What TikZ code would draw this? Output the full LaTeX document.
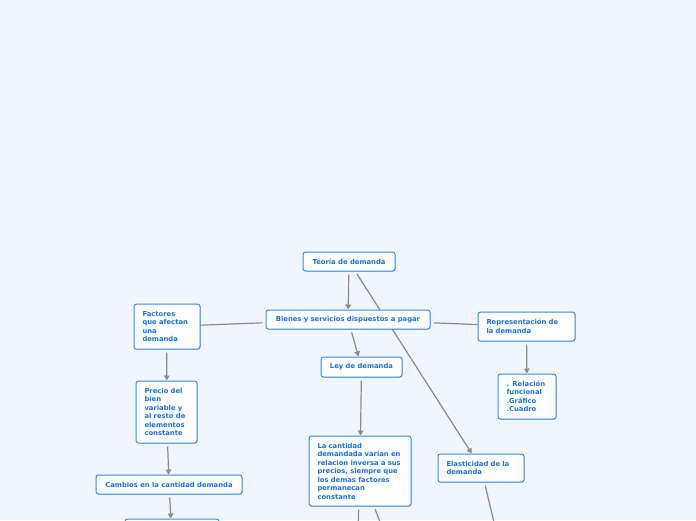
\documentclass[tikz,border=0pt]{standalone}
\usepackage{fontspec}
\setmainfont{DejaVu Sans}
\usepackage{xcolor}
\usetikzlibrary{arrows.meta, shadows}

\definecolor{bgblue}{RGB}{241,245,253}
\definecolor{boxblue}{RGB}{52,140,232}
\definecolor{txtblue}{RGB}{28,114,214}
\definecolor{linegray}{RGB}{138,138,144}

\pgfdeclarelayer{bg}
\pgfdeclarelayer{edges}
\pgfsetlayers{bg,edges,main}

\begin{document}
\begin{tikzpicture}[x=1pt, y=1pt,
  box/.style={draw=boxblue, fill=white, rounded corners=2.5pt, line width=1pt,
    text=txtblue, font=\bfseries\fontsize{6.8}{8.5}\selectfont, align=left,
    inner xsep=8.5pt, inner ysep=2pt,
    drop shadow={shadow xshift=0.6pt, shadow yshift=-0.8pt, opacity=0.18, fill=black}},
  link/.style={draw=linegray, line width=1.2pt, shorten <=3pt},
  arr/.style={link, -{Triangle[width=5.5pt,length=5pt]}}]

\useasboundingbox (0,0) rectangle (696,-520);
\begin{pgfonlayer}{bg}
\fill[bgblue] (0,0) rectangle (696,-520);
\end{pgfonlayer}

% Nodes
\node[box, minimum width=92pt, minimum height=19pt] (teoria) at (349,-261.5) {Teoría de demanda};
\node[box, minimum width=164pt, minimum height=19pt] (bienes) at (348,-319.5) {Bienes y servicios dispuestos a pagar};
\node[box, text width=49pt, minimum height=45pt] (factores) at (167,-326.5) {Factores\\que afectan\\una\\demanda};
\node[box, text width=44pt, minimum height=62pt] (precio) at (166.5,-412) {Precio del\\bien\\variable y\\al resto de\\elementos\\constante};
\node[box, minimum width=146pt, minimum height=19pt] (cambios) at (169,-484.5) {Cambios en la cantidad demanda};
\node[box, minimum width=94pt, minimum height=40pt] (siguiente) at (172,-539) {};
\node[box, minimum width=81pt, minimum height=20pt] (ley) at (361.5,-367) {Ley de demanda};
\node[box, text width=85pt, minimum height=70pt] (cantidad) at (360,-471) {La cantidad\\demandada varian en\\relacion inversa a sus\\precios, siempre que\\los demas factores\\permanecan\\constante};
\node[box, text width=80pt, minimum height=29pt] (repres) at (526.5,-326.5) {Representación de\\la demanda};
\node[box, text width=41pt, minimum height=45pt] (relacion) at (527,-396.5) {. Relación\\funcional\\.Gráfico\\.Cuadro};
\node[box, text width=69pt, minimum height=28pt] (elastic) at (481,-468) {Elasticidad de la\\demanda};

\coordinate (sal1) at (357,-560);
\coordinate (sal2) at (395,-560);
\coordinate (sal3) at (503,-560);

% Edges
\begin{pgfonlayer}{edges}
\draw[arr] (teoria) -- (bienes);
\draw[arr] (teoria) -- (elastic);
\draw[link] (bienes) -- (factores);
\draw[link] (bienes) -- (repres);
\draw[arr] (bienes) -- (ley);
\draw[arr] (ley) -- (cantidad);
\draw[arr] (factores) -- (precio);
\draw[arr] (precio) -- (cambios);
\draw[arr] (cambios) -- (siguiente);
\draw[arr] (repres) -- (relacion);
\draw[link] (cantidad) -- (sal1);
\draw[link] (cantidad) -- (sal2);
\draw[link] (elastic) -- (sal3);
\end{pgfonlayer}

\end{tikzpicture}
\end{document}
